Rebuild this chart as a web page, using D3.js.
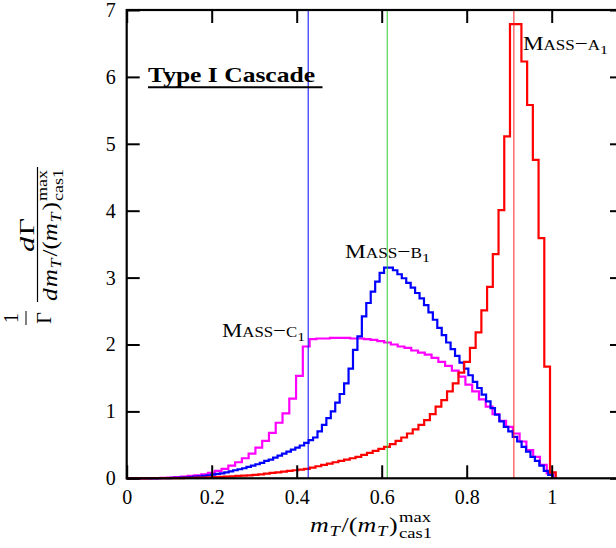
<!DOCTYPE html>
<html>
<head>
<meta charset="utf-8">
<script src="https://cdn.jsdelivr.net/npm/d3@7"></script>
<style>
  body { margin: 0; background: #fff; }
  svg { display: block; }
  text { font-family: "Liberation Serif", "Times New Roman", serif; fill: #000; }
</style>
</head>
<body>
<svg id="chart" width="616" height="548"></svg>
<script>
// axis ticks
const xTicks = [0, 0.2, 0.4, 0.6, 0.8, 1];
const xTickLabels = ['0', '0.2', '0.4', '0.6', '0.8', '1'];
const yTicks = [0, 1, 2, 3, 4, 5, 6, 7];

// histogram bin widths (each one has its own binning)
const binRed = 0.01346;
const binBlue = 0.01044;
const binMagenta = 0.01594;

// Mass-A1 (red)
const redValues = [
  0, 0, 0, 0, 0.0005, 0.001, 0.0015, 0.002, 0.003, 0.004,
  0.005, 0.007, 0.009, 0.011, 0.014, 0.017, 0.02, 0.025, 0.03, 0.035,
  0.04, 0.045, 0.05, 0.06, 0.07, 0.08, 0.09, 0.10, 0.11, 0.12,
  0.13, 0.14, 0.16, 0.18, 0.20, 0.22, 0.24, 0.26, 0.28, 0.30,
  0.32, 0.35, 0.38, 0.41, 0.44, 0.47, 0.51, 0.56, 0.61, 0.67,
  0.73, 0.80, 0.87, 0.96, 1.07, 1.17, 1.30, 1.42, 1.58, 1.74,
  1.95, 2.18, 2.51, 2.86, 3.35, 4.01, 5.11, 6.79, 6.79, 6.23,
  5.58, 4.76, 3.59, 1.67, 0.09
];

// Mass-B1 (blue)
const blueValues = [
  0, 0, 0, 0, 0, 0, 0, 0.001, 0.002, 0.003,
  0.005, 0.007, 0.01, 0.014, 0.018, 0.024, 0.03, 0.037, 0.045, 0.055,
  0.065, 0.075, 0.09, 0.105, 0.12, 0.135, 0.15, 0.17, 0.19, 0.21,
  0.23, 0.26, 0.28, 0.31, 0.34, 0.37, 0.40, 0.43, 0.46, 0.49,
  0.53, 0.57, 0.61, 0.70, 0.80, 0.90, 1.00, 1.13, 1.26, 1.42,
  1.64, 1.92, 2.12, 2.42, 2.62, 2.79, 2.94, 3.07, 3.15, 3.15,
  3.11, 3.05, 2.99, 2.92, 2.85, 2.77, 2.69, 2.59, 2.48, 2.37,
  2.25, 2.14, 2.03, 1.93, 1.83, 1.73, 1.64, 1.54, 1.44, 1.35,
  1.25, 1.15, 1.05, 0.95, 0.85, 0.77, 0.70, 0.62, 0.55, 0.47,
  0.40, 0.32, 0.26, 0.19, 0.11, 0.05
];

// Mass-C1 (magenta)
const magentaValues = [
  0, 0, 0.001, 0.002, 0.004, 0.007, 0.011, 0.017, 0.025, 0.035,
  0.045, 0.06, 0.08, 0.11, 0.14, 0.19, 0.24, 0.30, 0.37, 0.46,
  0.56, 0.68, 0.83, 0.97, 1.19, 1.53, 1.97, 2.08, 2.09, 2.09,
  2.10, 2.10, 2.10, 2.09, 2.09, 2.08, 2.07, 2.05, 2.03, 2.00,
  1.97, 1.95, 1.91, 1.88, 1.85, 1.80, 1.74, 1.68, 1.61, 1.52,
  1.40, 1.30, 1.18, 1.07, 0.96, 0.86, 0.77, 0.67, 0.55, 0.42,
  0.32, 0.20, 0.075
];

// vertical marker lines
const markerX = [0.427, 0.613, 0.911];
const markerColors = ['#0000ff', '#33cc33', '#ff2020'];

const plotLeft = 126.7, plotTop = 10, plotRight = 623, plotBottom = 478.3;

const x = d3.scaleLinear().domain([0, (plotRight - plotLeft) / 425]).range([plotLeft, plotRight]);
const y = d3.scaleLinear().domain([0, 7]).range([plotBottom, plotTop]);

const svg = d3.select('#chart');

// builds a row of text pieces (with sub/superscripts) starting at 0
function mathRow(g, parts) {
  let cx = 0;
  parts.forEach((p) => {
    if (p.stack) {
      const ws = p.stack.map((s) => {
        const t = g.append('text')
          .attr('x', cx).attr('y', s.dy)
          .style('font-size', s.size + 'px')
          .text(s.t);
        return t.node().getComputedTextLength();
      });
      cx += d3.max(ws);
    } else {
      const t = g.append('text')
        .attr('x', cx).attr('y', p.dy || 0)
        .style('font-size', p.size + 'px')
        .style('font-style', p.italic ? 'italic' : 'normal')
        .text(p.t);
      cx += t.node().getComputedTextLength() + (p.gap || 0);
    }
  });
  return cx;
}

// row centred on cx, stretched to the wanted width
function centeredRow(parent, parts, cx, cy, targetW) {
  const g = parent.append('g');
  const w = mathRow(g, parts);
  const s = targetW / w;
  g.attr('transform', `translate(${cx - targetW / 2}, ${cy}) scale(${s}, 1)`);
  return g;
}

const mtParts = [
  { t: 'm', size: 21, italic: true, gap: 0.5 },
  { t: 'T', size: 15, italic: true, dy: 4, gap: 1.5 },
  { t: '/(', size: 21 },
  { t: 'm', size: 21, italic: true, gap: 0.5 },
  { t: 'T', size: 15, italic: true, dy: 4, gap: 1.5 },
  { t: ')', size: 21, gap: 1 },
  { stack: [{ t: 'max', size: 15, dy: -10 }, { t: 'cas1', size: 15, dy: 6 }] }
];

// histograms
function histPath(values, w) {
  const pts = values.map((v, i) => [i * w, v]);
  pts.push([values.length * w, 0]);
  return d3.line()
    .x((d) => x(d[0]))
    .y((d) => y(d[1]))
    .curve(d3.curveStepAfter)(pts);
}

const hist = svg.append('g').attr('fill', 'none').attr('stroke-width', 2.2);
hist.append('path').attr('d', histPath(magentaValues, binMagenta)).attr('stroke', '#ff00ff');
hist.append('path').attr('d', histPath(blueValues, binBlue)).attr('stroke', '#0000ff');
hist.append('path').attr('d', histPath(redValues, binRed)).attr('stroke', '#ff0000');

svg.append('g')
  .selectAll('line')
  .data(markerX)
  .join('line')
  .attr('x1', (d) => x(d)).attr('x2', (d) => x(d))
  .attr('y1', plotTop).attr('y2', plotBottom)
  .attr('stroke', (d, i) => markerColors[i])
  .attr('stroke-width', 1);

// frame and ticks
const axisStyle = (g) => {
  g.select('.domain').remove();
  g.selectAll('.tick line').attr('stroke', '#000').attr('stroke-width', 2);
  g.selectAll('.tick text').style('font-family', '"Liberation Serif", serif').style('font-size', '20px');
};

svg.append('g')
  .attr('transform', `translate(0, ${plotBottom})`)
  .call(d3.axisBottom(x).tickValues(xTicks).tickFormat((d, i) => xTickLabels[i]).tickSize(-13).tickPadding(12))
  .call(axisStyle);
svg.append('g')
  .attr('transform', `translate(0, ${plotTop})`)
  .call(d3.axisTop(x).tickValues(xTicks).tickSize(-13).tickFormat(''))
  .call(axisStyle);
svg.append('g')
  .attr('transform', `translate(${plotLeft}, 0)`)
  .call(d3.axisLeft(y).tickValues(yTicks).tickSize(-13).tickPadding(11).tickFormat(d3.format('d')))
  .call(axisStyle);
svg.append('g')
  .attr('transform', `translate(${plotRight}, 0)`)
  .call(d3.axisRight(y).tickValues(yTicks).tickSize(-13).tickFormat(''))
  .call(axisStyle);

svg.append('rect')
  .attr('x', plotLeft).attr('y', plotTop)
  .attr('width', plotRight - plotLeft).attr('height', plotBottom - plotTop)
  .attr('fill', 'none').attr('stroke', '#000').attr('stroke-width', 2.2);

// title
svg.append('text')
  .attr('x', 148).attr('y', 82)
  .attr('textLength', 167).attr('lengthAdjust', 'spacingAndGlyphs')
  .style('font-size', '21px').style('font-weight', 'bold')
  .text('Type I Cascade');
svg.append('line')
  .attr('x1', 148).attr('x2', 322.5).attr('y1', 87.3).attr('y2', 87.3)
  .attr('stroke', '#000').attr('stroke-width', 2);

// curve labels in small caps
const massLabels = [
  { letter: 'A', x: 523, y: 50, w: 85 },
  { letter: 'B', x: 345, y: 258, w: 85 },
  { letter: 'C', x: 222, y: 337, w: 83 }
];
massLabels.forEach((m) => {
  const t = svg.append('text').attr('x', m.x).attr('y', m.y)
    .attr('textLength', m.w).attr('lengthAdjust', 'spacingAndGlyphs')
    .style('font-size', '19px');
  t.append('tspan').text('M');
  t.append('tspan').style('font-size', '14px').text('ASS');
  t.append('tspan').text('\u2212');
  t.append('tspan').style('font-size', '14px').text(m.letter);
  t.append('tspan').style('font-size', '13px').attr('dy', 4).text('1');
});

// x axis title
centeredRow(svg, mtParts, 371, 531.7, 122);

// y axis title (rotated)
const yl = svg.append('g').attr('transform', 'rotate(-90)');
yl.append('text').attr('x', -318).attr('y', 17.5).attr('text-anchor', 'middle').style('font-size', '20px').text('1');
yl.append('line').attr('x1', -325).attr('x2', -311).attr('y1', 26).attr('y2', 26).attr('stroke', '#000').attr('stroke-width', 1);
yl.append('text').attr('x', -318).attr('y', 51).attr('text-anchor', 'middle').style('font-size', '20px').text('\u0393');
centeredRow(yl, [{ t: 'd', size: 21, italic: true, gap: 1 }, { t: '\u0393', size: 21 }], -235, 34, 34);
yl.append('line').attr('x1', -302).attr('x2', -167).attr('y1', 37.5).attr('y2', 37.5).attr('stroke', '#000').attr('stroke-width', 1.2);
centeredRow(yl, [{ t: 'd', size: 21, italic: true, gap: 1 }].concat(mtParts), -235, 57, 132);
</script>
</body>
</html>
